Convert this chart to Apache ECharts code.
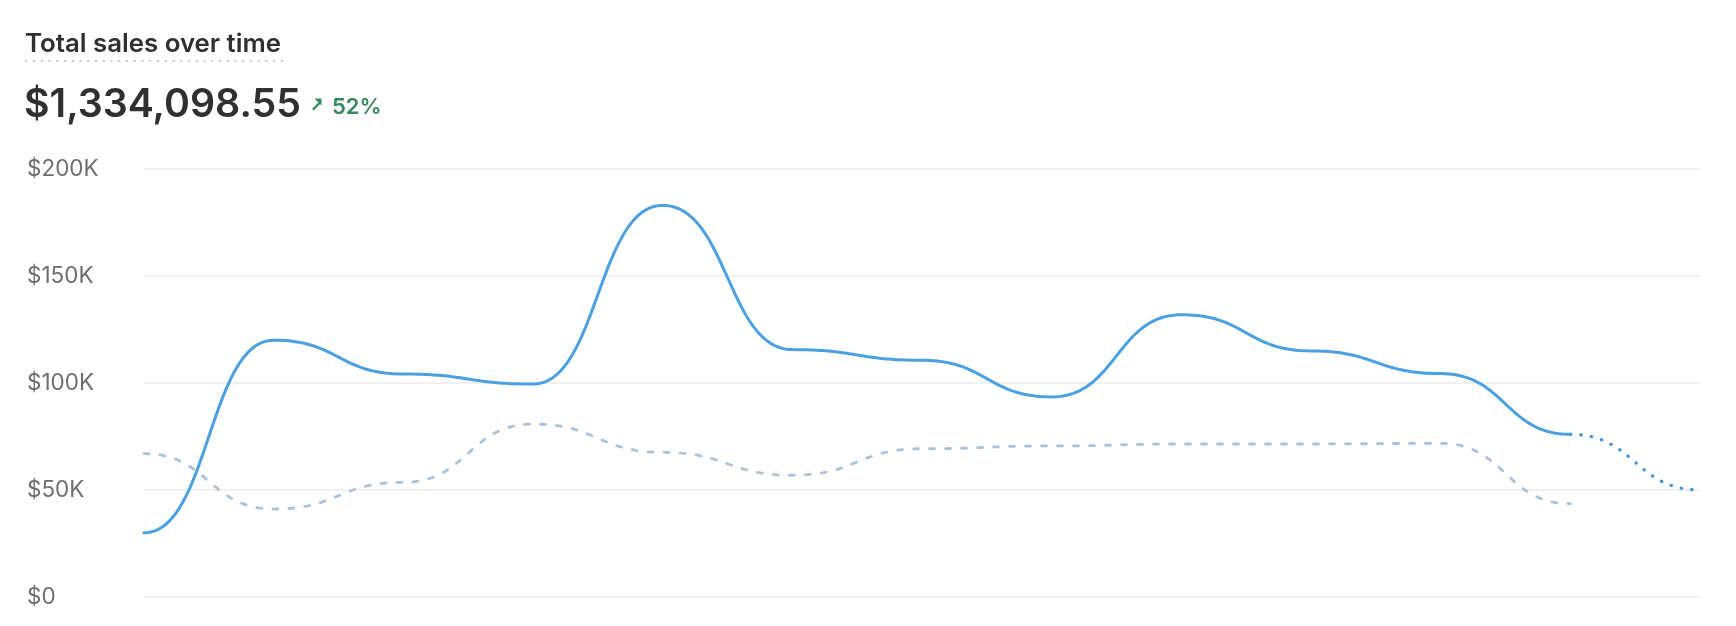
<!DOCTYPE html>
<html>
<head>
<meta charset="utf-8">
<script src="https://cdn.jsdelivr.net/npm/echarts@6/dist/echarts.min.js"></script>
<style>
  html, body { margin: 0; padding: 0; background: #ffffff; }
  #chart { width: 1736px; height: 626px; }
</style>
</head>
<body>
<div id="chart"></div>
<script>
// ---- data (values in dollars) ----
const periods = ['P1','P2','P3','P4','P5','P6','P7','P8','P9','P10','P11','P12','P13'];
const currentSales = [30000, 120000, 104200, 99500, 183000, 115600, 110600, 93500, 131900, 115000, 104400, 76000];
const projectedSales = [76000, 50000]; // last complete point -> incomplete period
const previousSales = [67000, 41100, 53600, 80800, 67600, 56900, 69300, 70600, 71500, 71500, 71800, 43600];
const yTicks = [0, 50000, 100000, 150000, 200000];
const titleText = 'Total sales over time';
const totalText = '$1,334,098.55';
const changeText = '52%';

const FONT = 'Inter, "Noto Sans", sans-serif';

// Smooth "bump-x" curve (horizontal tangent at every point) built from axis coordinates.
function bumpSeries(name, values, startIndex, lineStyle, z) {
  const data = values.map((v, i) => [startIndex + i, v]);
  return {
    name: name,
    type: 'custom',
    data: data,
    encode: { x: 0, y: 1 },
    z: z,
    silent: true,
    renderItem: function (params, api) {
      if (params.dataIndex !== 0) return null;
      const pts = data.map(d => api.coord([d[0], d[1]]));
      const out = [pts[0]];
      for (let k = 0; k < pts.length - 1; k++) {
        const p0 = pts[k], p1 = pts[k + 1];
        const mx = (p0[0] + p1[0]) / 2;
        const steps = 48;
        for (let s = 1; s <= steps; s++) {
          const t = s / steps, u = 1 - t;
          const x = u*u*u*p0[0] + 3*u*u*t*mx + 3*u*t*t*mx + t*t*t*p1[0];
          const y = u*u*u*p0[1] + 3*u*u*t*p0[1] + 3*u*t*t*p1[1] + t*t*t*p1[1];
          out.push([x, y]);
        }
      }
      return {
        type: 'polyline',
        shape: { points: out, smooth: 0 },
        style: Object.assign({ fill: null, lineJoin: 'round' }, lineStyle)
      };
    }
  };
}

const chart = echarts.init(document.getElementById('chart'), null, { renderer: 'canvas' });

chart.setOption({
  animation: false,
  backgroundColor: '#ffffff',
  grid: { left: 144, right: 36, top: 169, bottom: 29, containLabel: false },
  xAxis: {
    type: 'category',
    data: periods,
    boundaryGap: false,
    axisLine: { show: false },
    axisTick: { show: false },
    axisLabel: { show: false },
    splitLine: { show: false }
  },
  yAxis: {
    type: 'value',
    min: yTicks[0],
    max: yTicks[yTicks.length - 1],
    interval: yTicks[1] - yTicks[0],
    axisLine: { show: false },
    axisTick: { show: false },
    axisLabel: {
      align: 'left',
      margin: 117,
      color: '#6e6e6e',
      fontFamily: FONT,
      fontSize: 22.5,
      formatter: v => v === 0 ? '$0' : '$' + (v / 1000) + 'K'
    },
    splitLine: { lineStyle: { color: '#ebebeb', width: 1.5 } }
  },
  series: [
    bumpSeries('Previous period', previousSales, 0,
      { stroke: '#a9c3dc', lineWidth: 2.8, lineDash: [5, 11], lineCap: 'round' }, 1),
    bumpSeries('Projected', projectedSales, currentSales.length - 1,
      { stroke: '#4294d6', lineWidth: 3.2, lineDash: [0.5, 10], lineCap: 'round' }, 2),
    bumpSeries('Total sales', currentSales, 0,
      { stroke: '#4aa0e0', lineWidth: 3, lineCap: 'round' }, 3)
  ],
  graphic: [
    {
      type: 'text',
      style: { x: 25, y: 44, text: titleText, font: '600 25.8px ' + FONT, fill: '#303030', verticalAlign: 'middle', align: 'left' }
    },
    {
      type: 'line',
      shape: { x1: 26, y1: 61, x2: 282, y2: 61 },
      style: { stroke: '#c4c4c4', lineWidth: 2, lineDash: [0.5, 7.25], lineCap: 'round' }
    },
    {
      type: 'text',
      style: { x: 24, y: 105, text: totalText, font: '600 39.3px ' + FONT, fill: '#303030', verticalAlign: 'middle', align: 'left' }
    },
    {
      type: 'line',
      shape: { x1: 313.5, y1: 109, x2: 320, y2: 102.5 },
      style: { stroke: '#348a5a', lineWidth: 2.4, lineCap: 'round' }
    },
    {
      type: 'polygon',
      shape: { points: [[314.5, 98.5], [321.5, 98.5], [321.5, 105.5]] },
      style: { fill: '#348a5a' }
    },
    {
      type: 'text',
      style: { x: 332, y: 107, text: changeText, font: '600 22px ' + FONT, fill: '#348a5a', verticalAlign: 'middle', align: 'left' }
    }
  ]
});
</script>
</body>
</html>
